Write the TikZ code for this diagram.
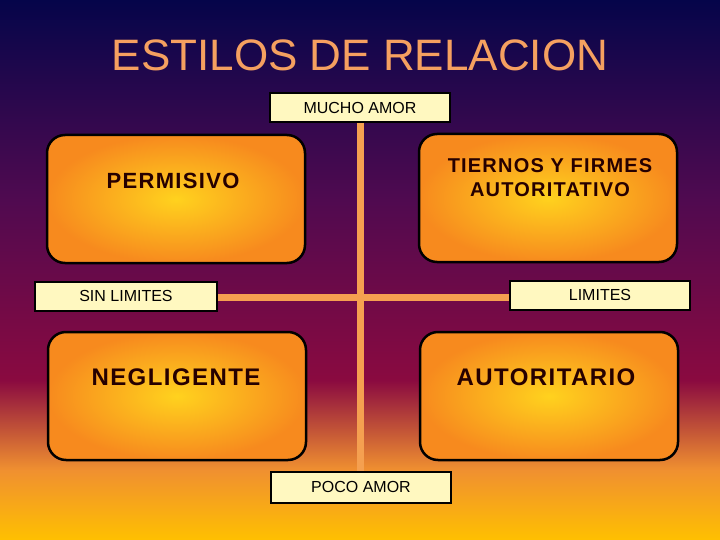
\documentclass[tikz,border=0pt]{standalone}
\usepackage{fontspec}
\setmainfont{Liberation Sans}
\newfontfamily\wide[LetterSpace=6]{Liberation Sans}
\usetikzlibrary{shadings}
\definecolor{navy}{HTML}{05054A}
\definecolor{plum}{HTML}{500A50}
\definecolor{wine}{HTML}{8A0A40}
\definecolor{org}{HTML}{F09030}
\definecolor{gold}{HTML}{FFC000}
\definecolor{titlec}{HTML}{F5A060}
\definecolor{pale}{HTML}{FFF8C0}
\definecolor{boxout}{HTML}{F78A1E}
\definecolor{boxin}{HTML}{FFD21E}
\definecolor{bar}{HTML}{F5A050}
\begin{document}
\begin{tikzpicture}[x=1pt,y=-1pt,
 big/.style={draw=black,line width=2.5pt,rounded corners=18pt,inner color=boxin,outer color=boxout,minimum width=258pt,minimum height=128pt},
 lab/.style={draw=black,line width=2pt,fill=pale,minimum width=180pt,minimum height=29pt,font=\fontsize{16}{18}\selectfont},
 bt/.style={font=\wide\bfseries\fontsize{22}{26}\selectfont,text=black!85!red,align=center}]
\shade[top color=navy,bottom color=plum] (0,0) rectangle (720,200);
\shade[top color=plum,bottom color=wine] (0,200) rectangle (720,380);
\shade[top color=wine,bottom color=org] (0,380) rectangle (720,470);
\shade[top color=org,bottom color=gold] (0,470) rectangle (720,540);
\useasboundingbox (0,0) rectangle (720,540);
\node[text=titlec,font=\fontsize{44}{48}\selectfont] (t) at (360,55) {ESTILOS DE RELACION};
\node[big] (p) at (176,199) {};
\node[big] (tf) at (548,198) {};
\node[big] (n) at (177,396) {};
\node[big] (a) at (549,396) {};
\coordinate (vt) at (360,122); \coordinate (vb) at (360,472);
\coordinate (hl) at (215,297); \coordinate (hr) at (512,297);
\draw[bar,line width=7pt] (vt) -- (vb);
\draw[bar,line width=7pt] (hl) -- (hr);
\node[lab] (m) at (360,108) {MUCHO AMOR};
\node[lab,minimum width=182pt] (sl) at (126,296) {SIN LIMITES};
\node[lab] (l) at (600,295) {LIMITES};
\node[lab,minimum height=31pt] (pa) at (361,487) {POCO AMOR};
\node[bt] at (173,181) {PERMISIVO};
\node[bt,font=\wide\bfseries\fontsize{20}{24}\selectfont] at (550,178) {TIERNOS Y FIRMES\\AUTORITATIVO};
\node[bt,font=\wide\bfseries\fontsize{24}{26}\selectfont] at (176,377) {NEGLIGENTE};
\node[bt,font=\wide\bfseries\fontsize{24}{26}\selectfont] at (546,377) {AUTORITARIO};
\end{tikzpicture}
\end{document}
